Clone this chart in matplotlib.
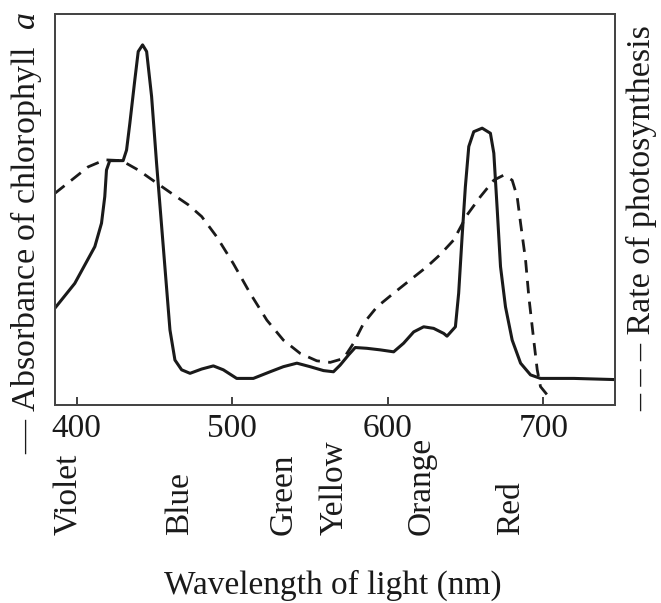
import matplotlib
matplotlib.use('Agg')
import matplotlib.pyplot as plt
import matplotlib.transforms as mtransforms

plt.rcParams['font.family'] = ['Liberation Serif', 'DejaVu Serif']
plt.rcParams['mathtext.fontset'] = 'custom'
plt.rcParams['mathtext.rm'] = 'Liberation Serif'
plt.rcParams['mathtext.it'] = 'Liberation Serif:italic'

# absorbance of chlorophyll a (solid), relative units
abs_wl = [385.8, 398.7, 411.6, 415.9, 418, 419.1, 421.2, 429.8, 432, 434.1, 437.3,
          439.5, 442.3, 444.9, 448.1, 451.3, 455.6, 459.9, 463.1, 467.4, 472.8, 480.3,
          487.8, 494.2, 502.8, 513.5, 524.3, 532.8, 541.5, 550, 558.6, 565, 569.3,
          574.7, 579, 586.5, 595.1, 603.7, 610.1, 616.6, 623, 629.4, 635.9, 638,
          643.4, 645.5, 647.7, 649.8, 652, 655.2, 660.6, 665.9, 668.1, 670.3, 672.4,
          675.6, 679.9, 685.3, 691.7, 698.1, 719.6, 746]
abs_val = [0.247, 0.311, 0.405, 0.465, 0.533, 0.601, 0.625, 0.625, 0.652, 0.72, 0.831,
           0.904, 0.921, 0.904, 0.789, 0.618, 0.405, 0.192, 0.115, 0.09, 0.081, 0.092,
           0.10, 0.09, 0.068, 0.068, 0.085, 0.098, 0.107, 0.098, 0.088, 0.085, 0.102,
           0.128, 0.147, 0.145, 0.141, 0.136, 0.158, 0.187, 0.20, 0.196, 0.183, 0.176,
           0.20, 0.286, 0.43, 0.558, 0.661, 0.699, 0.708, 0.695, 0.644, 0.499, 0.354,
           0.251, 0.166, 0.107, 0.077, 0.068, 0.068, 0.065]

# rate of photosynthesis (dashed), relative units
rate_wl = [385.8, 396.6, 407.3, 418, 428.8, 439.5, 450.2, 461, 471.7, 480.3, 490,
           500.6, 511.4, 522.2, 532.8, 543.6, 554.3, 562.9, 571.5, 577.9, 584.4, 593,
           603.7, 614.4, 625.2, 633.7, 642.3, 650.9, 659.5, 668.1, 674.5, 679.9, 683.1,
           685.3, 688.5, 690.6, 693.5, 696, 698.1, 702.4, 706.7]
rate_val = [0.541, 0.575, 0.609, 0.627, 0.625, 0.601, 0.571, 0.541, 0.512, 0.482, 0.43,
            0.362, 0.286, 0.217, 0.166, 0.132, 0.113, 0.109, 0.119, 0.158, 0.209, 0.251,
            0.286, 0.32, 0.354, 0.385, 0.422, 0.486, 0.533, 0.575, 0.588, 0.575, 0.533,
            0.465, 0.371, 0.277, 0.175, 0.09, 0.047, 0.026, 0.023]

colour_names = ['Violet', 'Blue', 'Green', 'Yellow', 'Orange', 'Red']
colour_pos = [395, 466, 533, 565.5, 621.5, 679]
tick_vals = [400, 500, 600, 700]

W, H = 661, 603
fig = plt.figure(figsize=(W / 100, H / 100), dpi=100)
ax = fig.add_axes([55 / W, 1 - 405 / H, 560 / W, 391 / H])

ink = '#1a1a1a'
ax.plot(abs_wl, abs_val, color=ink, lw=2.2, solid_joinstyle='round')

ax2 = ax.twinx()
ax2.plot(rate_wl, rate_val, color=ink, lw=2.0, linestyle=(0, (4.5, 3)))
ax2.set_ylim(0, 1)
ax2.set_yticks([])

ax.set_xlim(386, 746)
ax.set_ylim(0, 1)
ax.set_yticks([])
ax.set_xticks(tick_vals)
ax.tick_params(axis='x', direction='in', length=6, width=1.3, color='#333333',
               labelsize=24, pad=6, labelcolor=ink)
for a in (ax, ax2):
    for s in a.spines.values():
        s.set_linewidth(1.3)
        s.set_color('#444444')

# colour names under the axis
trans = mtransforms.blended_transform_factory(ax.transData, ax.transAxes)
for name, pos in zip(colour_names, colour_pos):
    ax.text(pos, -0.332, name, transform=trans, rotation=90, ha='center', va='bottom',
            fontsize=24, color=ink)

fig.text(333 / W, 1 - 585 / H, 'Wavelength of light (nm)', ha='center', va='center',
         fontsize=24, color=ink)
fig.text(26 / W, 1 - 233 / H, '\u2014 Absorbance of chlorophyll  $a$', rotation=90,
         ha='center', va='center', fontsize=24.5, color=ink)
fig.text(642 / W, 1 - 218 / H, '\u2013 \u2013 \u2013 Rate of photosynthesis', rotation=90,
         ha='center', va='center', fontsize=24.5, color=ink)

fig.savefig('out.png', dpi=100)
